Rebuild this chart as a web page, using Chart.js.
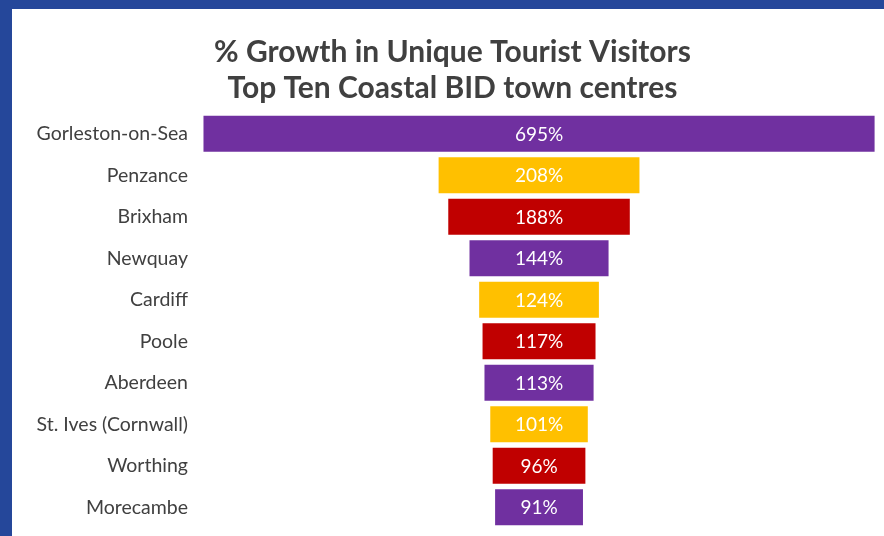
<!DOCTYPE html>
<html>
<head>
<meta charset="utf-8">
<script src="https://cdn.jsdelivr.net/npm/chart.js@4"></script>
<style>
  html, body { margin: 0; padding: 0; }
  body { width: 884px; height: 536px; background: #25479a; position: relative; overflow: hidden; }
  .panel { position: absolute; left: 12px; top: 9px; width: 872px; height: 527px; background: #fff; }
  canvas { display: block; }
</style>
</head>
<body>
<div class="panel"><canvas id="funnel" width="872" height="527"></canvas></div>
<script>
// Top ten coastal BID towns by growth in unique tourist visitors
const towns = ['Gorleston-on-Sea', 'Penzance', 'Brixham', 'Newquay', 'Cardiff',
  'Poole', 'Aberdeen', 'St. Ives (Cornwall)', 'Worthing', 'Morecambe'];
const growth = [695, 208, 188, 144, 124, 117, 113, 101, 96, 91];
const barColours = ['#7030a0', '#ffc000', '#c00000'];

const ctx = document.getElementById('funnel').getContext('2d');

// Centre each bar on zero so the bars form a funnel
const spans = growth.map(v => [-v / 2, v / 2]);

const valueLabels = {
    id: 'valueLabels',
    afterDatasetsDraw(chart) {
        const c = chart.ctx;
        const meta = chart.getDatasetMeta(0);
        c.save();
        c.fillStyle = '#ffffff';
        c.font = '19px Lato';
        c.textAlign = 'center';
        c.textBaseline = 'middle';
        meta.data.forEach((bar, i) => {
            c.fillText(growth[i] + '%', (bar.x + bar.base) / 2, bar.y + 1);
        });
        c.restore();
    }
};

new Chart(ctx, {
    type: 'bar',
    data: {
        labels: towns,
        datasets: [{
            data: spans,
            backgroundColor: towns.map((t, i) => barColours[i % 3]),
            barPercentage: 0.87,
            categoryPercentage: 1
        }]
    },
    options: {
        indexAxis: 'y',
        responsive: false,
        animation: false,
        layout: { padding: { left: 16, right: 7, bottom: 8 } },
        scales: {
            x: {
                display: false,
                min: -348,
                max: 350
            },
            y: {
                grid: { display: false, drawTicks: false },
                border: { display: false },
                ticks: {
                    color: '#404040',
                    font: { family: 'Lato', size: 19.5 },
                    padding: 15
                },
                afterFit(scale) {
                    scale.width = 175;
                    scale.paddingTop = 0;
                    scale.paddingBottom = 0;
                }
            }
        },
        plugins: {
            legend: { display: false },
            tooltip: { enabled: false },
            title: {
                display: true,
                text: ['% Growth in Unique Tourist Visitors', 'Top Ten Coastal BID town centres'],
                color: '#404040',
                font: { family: 'Lato', size: 30, weight: 'bold', lineHeight: 1.2 },
                padding: { top: 25, bottom: 7 }
            }
        }
    },
    plugins: [valueLabels]
});
</script>
</body>
</html>
